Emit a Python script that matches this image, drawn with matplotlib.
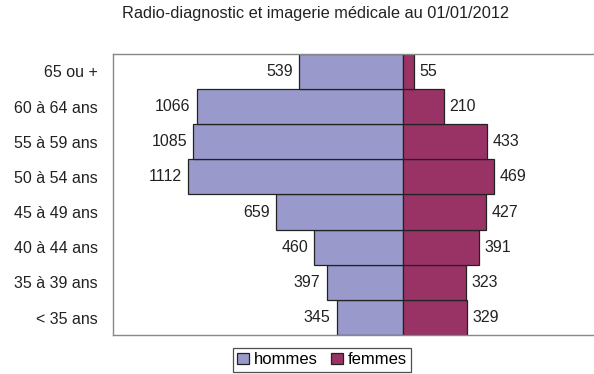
import numpy as np
import matplotlib
matplotlib.use("Agg")
import matplotlib.pyplot as plt

plt.rcParams['font.family'] = ['Liberation Sans', 'DejaVu Sans']

categories = ['< 35 ans', '35 à 39 ans', '40 à 44 ans', '45 à 49 ans',
              '50 à 54 ans', '55 à 59 ans', '60 à 64 ans', '65 ou +']
hommes = [345, 397, 460, 659, 1112, 1085, 1066, 539]
femmes = [329, 323, 391, 427, 469, 433, 210, 55]

col_h = '#9999cc'
col_f = '#993366'
fs = 11.5

fig = plt.figure(figsize=(5.94, 3.74), dpi=100)
ax = fig.add_axes([0.190, 0.104, 0.812, 0.752])

y = np.arange(len(categories))
ax.barh(y, [-v for v in hommes], height=1.0, color=col_h, edgecolor='#222222', linewidth=0.9, label='hommes')
ax.barh(y, femmes, height=1.0, color=col_f, edgecolor='#222222', linewidth=0.9, label='femmes')

# value labels on the outer end of each bar
for i, (h, f) in enumerate(zip(hommes, femmes)):
    ax.text(-h - 32, i, str(h), ha='right', va='center', fontsize=fs, color='#222222')
    ax.text(f + 28, i, str(f), ha='left', va='center', fontsize=fs, color='#222222')

ax.set_xlim(-1500, 990)
ax.set_ylim(-0.5, len(categories) - 0.5)
ax.set_yticks(y)
ax.set_yticklabels(categories, fontsize=fs, color='#222222')
ax.tick_params(axis='y', length=0, pad=11)
ax.set_xticks([])
for s in ['left', 'top', 'bottom']:
    ax.spines[s].set_color('#888888')
    ax.spines[s].set_linewidth(1.0)
ax.spines['right'].set_visible(False)

fig.text(0.532, 0.963, 'Radio-diagnostic et imagerie médicale au 01/01/2012',
         ha='center', va='center', fontsize=11.8, color='#222222')

leg = fig.legend(loc='upper center', bbox_to_anchor=(0.542, 0.069), ncol=2,
                 fontsize=12, frameon=True, fancybox=False, handlelength=0.7,
                 handleheight=0.7, handletextpad=0.3, columnspacing=0.8,
                 borderpad=0.25, borderaxespad=0)
leg.get_frame().set_edgecolor('#222222')
leg.get_frame().set_linewidth(0.9)

fig.savefig('out.png', dpi=100)
